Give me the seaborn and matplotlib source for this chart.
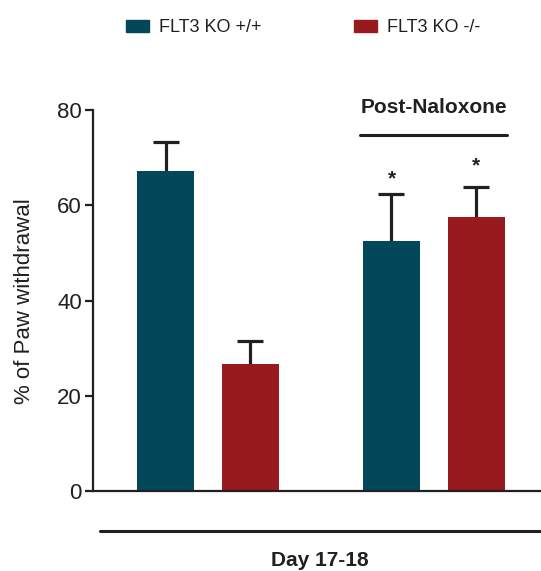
import numpy as np
import pandas as pd
import matplotlib
matplotlib.use("Agg")
import matplotlib.pyplot as plt
from matplotlib.patches import Patch
import seaborn as sns

# dados
posicoes = [0.0, 1.0, 2.66, 3.66]
genotipos = ["FLT3 KO +/+", "FLT3 KO -/-", "FLT3 KO +/+", "FLT3 KO -/-"]
medias = [67.2, 26.6, 52.5, 57.5]
erros = [6.1, 5.0, 9.9, 6.3]
estrelas = ["", "", "*", "*"]
folga_estrela = [0, 0, 1.2, 2.5]

cores = {"FLT3 KO +/+": "#02475a", "FLT3 KO -/-": "#981a1e"}
preto = "#231f20"

sns.set_style("ticks")
plt.rcParams["font.family"] = ["Liberation Sans", "DejaVu Sans"]

df = pd.DataFrame({"pos": posicoes, "genotipo": genotipos, "media": medias})

fig = plt.figure(figsize=(5.41, 5.71), dpi=100)
ax = fig.add_axes([0.172, 0.140, 0.828, 0.667])

sns.barplot(data=df, x="pos", y="media", hue="genotipo", palette=cores,
            native_scale=True, dodge=False, width=0.67, legend=False,
            errorbar=None, saturation=1, linewidth=0, ax=ax)

# barras de erro (so para cima)
eb = ax.errorbar(posicoes, medias, yerr=[np.zeros(len(erros)), erros], fmt="none",
                 ecolor=preto, elinewidth=2.3, capsize=9.7, capthick=2.3, zorder=1)
eb[1][0].remove()  # tira o cap de baixo
for b in ax.patches:
    b.set_zorder(2)

# asteriscos
for x, m, e, s, f in zip(posicoes, medias, erros, estrelas, folga_estrela):
    if s:
        ax.text(x, m + e + f, s, ha="center", va="bottom", fontsize=15,
                fontweight="bold", color=preto)

ax.set_ylim(0, 80)
ax.set_xlim(-0.853, 4.42)
ax.set_yticks([0, 20, 40, 60, 80])
ax.tick_params(axis="y", labelsize=16, length=6, width=1.6, colors=preto, pad=2)
ax.tick_params(axis="x", length=0, labelbottom=False)
ax.set_xlabel("")
ax.set_ylabel("% of Paw withdrawal", fontsize=16, color=preto, labelpad=16)
for lado in ["top", "right"]:
    ax.spines[lado].set_visible(False)
for lado in ["left", "bottom"]:
    ax.spines[lado].set_linewidth(1.6)
    ax.spines[lado].set_color(preto)

# Post-Naloxone
ax.plot([2.29, 4.02], [74.75, 74.75], color=preto, lw=2.2, clip_on=False)
ax.text(3.16, 80.6, "Post-Naloxone", ha="center", va="center", fontsize=15,
        fontweight="bold", color=preto, clip_on=False)

# Day 17-18
ax.plot([-0.77, 4.42], [-8.4, -8.4], color=preto, lw=2.2, clip_on=False)
ax.text(1.82, -14.6, "Day 17-18", ha="center", va="center", fontsize=15,
        fontweight="bold", color=preto, clip_on=False)

# legenda
handles = [Patch(color=cores[g], label=g) for g in ["FLT3 KO +/+", "FLT3 KO -/-"]]
fig.legend(handles=handles, loc="center", bbox_to_anchor=(0.560, 0.951), ncol=2,
           frameon=False, fontsize=13, handlelength=1.28, handleheight=0.67,
           handletextpad=0.55, columnspacing=5.1, labelcolor=preto)

fig.savefig("out.png", dpi=100)
